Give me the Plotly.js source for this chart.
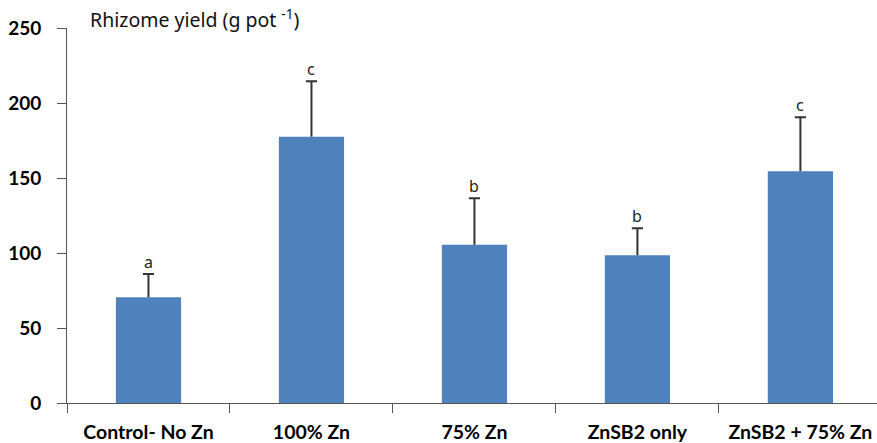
<!DOCTYPE html>
<html>
<head>
<meta charset="utf-8">
<script src="https://cdn.plot.ly/plotly-3.0.1.min.js"></script>
<style>html,body{margin:0;padding:0;background:#fff;}#chart{width:877px;height:443px;}</style>
</head>
<body>
<div id="chart"></div>
<script>
const categories = ["Control- No Zn", "100% Zn", "75% Zn", "ZnSB2 only", "ZnSB2 + 75% Zn"];
const yieldValues = [70.5, 177.5, 105.5, 98.5, 154.5];
const errorValues = [15.5, 37, 31, 18, 36];
const letters = ["a", "c", "b", "b", "c"];
const titleText = "Rhizome yield (g pot <sup>-1</sup>)";

const tops = yieldValues.map((v, i) => v + errorValues[i]);

const stemX = [], stemY = [];
categories.forEach((c, i) => { stemX.push(c, c, null); stemY.push(yieldValues[i], tops[i], null); });

const traces = [
  {type: "bar", x: categories, y: yieldValues, width: 0.4,
   marker: {color: "#4F81BD", line: {width: 0}}, hoverinfo: "skip"},
  {type: "scatter", mode: "lines", x: stemX, y: stemY,
   line: {color: "#333333", width: 2}, hoverinfo: "skip"},
  {type: "scatter", mode: "markers", x: categories, y: tops,
   marker: {symbol: "line-ew", size: 8, line: {color: "#333333", width: 2}}, hoverinfo: "skip"}
];

const annotations = categories.map((c, i) => ({
  x: c, y: tops[i], xref: "x", yref: "y", text: letters[i], showarrow: false,
  yanchor: "middle", yshift: 12, font: {family: "Noto Sans, sans-serif", size: 16, color: "#222"}
}));

const layout = {
  width: 877, height: 443,
  margin: {l: 67, r: 0, t: 28, b: 40},
  paper_bgcolor: "#fff", plot_bgcolor: "#fff",
  showlegend: false,
  title: {text: titleText, x: 90/877, xanchor: "left", xref: "container", y: 1 - 20/443, yanchor: "middle",
          yref: "container", font: {family: "Noto Sans, sans-serif", size: 19.5, color: "#111"}},
  xaxis: {type: "category", range: [-0.5, 4.47], tickson: "boundaries", ticks: "outside", ticklen: 9,
          tickcolor: "#555", showline: true, linecolor: "#555", linewidth: 1, showgrid: false,
          zeroline: false, ticklabelstandoff: 12,
          tickfont: {family: "Lato, sans-serif", size: 19.5, color: "#000", weight: "bold"}},
  yaxis: {range: [0, 250], tickvals: [0, 50, 100, 150, 200, 250], ticks: "outside", ticklen: 9,
          tickcolor: "#555", showline: true, linecolor: "#555", linewidth: 1, showgrid: false,
          zeroline: false, ticklabelstandoff: 12,
          tickfont: {family: "Lato, sans-serif", size: 19, color: "#000", weight: "bold"}},
  annotations: annotations
};

Plotly.newPlot("chart", traces, layout, {displayModeBar: false, staticPlot: true});
</script>
</body>
</html>
